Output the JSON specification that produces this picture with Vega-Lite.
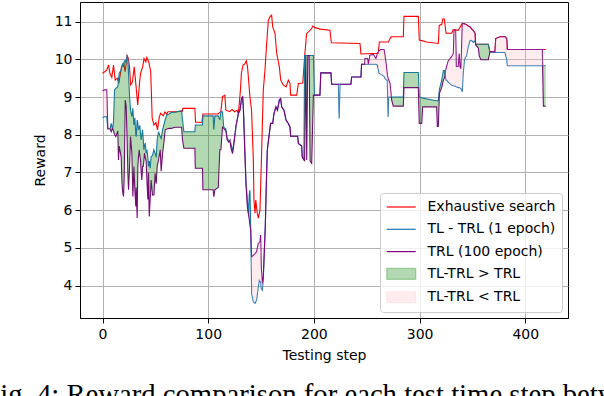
{
  "$schema": "https://vega.github.io/schema/vega-lite/v6.json",
  "width": 488,
  "height": 316,
  "autosize": {"type": "none"},
  "padding": {"left": 80, "top": 2, "right": 36, "bottom": 78},
  "background": "white",
  "title": {
    "text": "Fig. 4: Reward comparison for each test time step between the",
    "orient": "bottom",
    "anchor": "start",
    "frame": "group",
    "font": "Liberation Serif",
    "fontSize": 28.7,
    "fontWeight": "normal",
    "color": "black",
    "dx": -95.7,
    "offset": 19
  },
  "config": {
    "view": {"stroke": "black", "strokeWidth": 1},
    "axis": {
      "labelFont": "DejaVu Sans",
      "labelFontSize": 14,
      "labelColor": "black",
      "titleFont": "DejaVu Sans",
      "titleFontSize": 14,
      "titleFontWeight": "normal",
      "titleColor": "black",
      "tickColor": "black",
      "tickSize": 5,
      "domainColor": "black",
      "gridColor": "#b0b0b0",
      "gridWidth": 1,
      "labelPadding": 3
    },
    "legend": {
      "orient": "bottom-right",
      "offset": 6,
      "fillColor": "rgba(255,255,255,0.8)",
      "strokeColor": "#cccccc",
      "cornerRadius": 3,
      "padding": 6,
      "labelFont": "DejaVu Sans",
      "labelFontSize": 14,
      "labelColor": "black",
      "symbolSize": 210,
      "rowPadding": 7.3,
      "labelOffset": 25.5
    }
  },
  "datasets": {
    "exhaustive": [
      {"step": 0, "E": 9.63}, {"step": 4, "E": 9.71}, {"step": 5.7, "E": 9.85}, {"step": 7, "E": 9.63},
      {"step": 8.8, "E": 9.52}, {"step": 10.4, "E": 9.85}, {"step": 12, "E": 9.45}, {"step": 14, "E": 9.5},
      {"step": 15.4, "E": 9.36}, {"step": 16.7, "E": 9.58}, {"step": 18, "E": 9.8}, {"step": 20, "E": 9.89},
      {"step": 21.4, "E": 9.67}, {"step": 23.3, "E": 10.1}, {"step": 24.5, "E": 10.02}, {"step": 25.5, "E": 9.8},
      {"step": 26.7, "E": 9.32}, {"step": 28.3, "E": 9.4}, {"step": 30, "E": 9.8}, {"step": 31.8, "E": 9.27},
      {"step": 33.3, "E": 8.79}, {"step": 35, "E": 9.36}, {"step": 36, "E": 9.63}, {"step": 38, "E": 9.8},
      {"step": 39.3, "E": 10.02}, {"step": 41, "E": 9.93}, {"step": 42, "E": 10.05}, {"step": 44, "E": 9.9},
      {"step": 45.6, "E": 9.67}, {"step": 47, "E": 8.44}, {"step": 48.7, "E": 8.26}, {"step": 50.6, "E": 8.32},
      {"step": 52, "E": 8.13}, {"step": 53.8, "E": 8.48}, {"step": 55, "E": 8.57}, {"step": 57.5, "E": 8.5},
      {"step": 59, "E": 8.6}, {"step": 60.7, "E": 8.55}, {"step": 62, "E": 8.61}, {"step": 67, "E": 8.61},
      {"step": 75.5, "E": 8.62}, {"step": 76, "E": 8.7}, {"step": 87.4, "E": 8.7}, {"step": 88, "E": 8.33},
      {"step": 94, "E": 8.33}, {"step": 95, "E": 8.55}, {"step": 109.4, "E": 8.55}, {"step": 112, "E": 8.62},
      {"step": 113.5, "E": 9.01}, {"step": 115.7, "E": 9.05}, {"step": 116.7, "E": 8.65}, {"step": 120.4, "E": 8.61},
      {"step": 122.6, "E": 8.67}, {"step": 125, "E": 8.61}, {"step": 127.4, "E": 8.65}, {"step": 128.3, "E": 8.57},
      {"step": 129, "E": 8.7}, {"step": 130.5, "E": 9.19}, {"step": 131.4, "E": 9.63}, {"step": 133, "E": 9.85},
      {"step": 134.6, "E": 9.88}, {"step": 136, "E": 9.96}, {"step": 137.2, "E": 9.8}, {"step": 139.5, "E": 9.0},
      {"step": 141, "E": 8.65}, {"step": 142.7, "E": 7.33}, {"step": 143.3, "E": 6.27}, {"step": 144.3, "E": 5.92},
      {"step": 145, "E": 6.27}, {"step": 146.4, "E": 5.92}, {"step": 147.4, "E": 5.79}, {"step": 149, "E": 6.0},
      {"step": 150.6, "E": 7.6}, {"step": 152.1, "E": 9.18}, {"step": 153.7, "E": 9.71}, {"step": 155.3, "E": 10.42},
      {"step": 156.9, "E": 11.04}, {"step": 158.5, "E": 11.13}, {"step": 160, "E": 11.17}, {"step": 161, "E": 10.86},
      {"step": 163.2, "E": 10.69}, {"step": 164.8, "E": 10.16}, {"step": 167.3, "E": 9.8}, {"step": 168.6, "E": 9.45},
      {"step": 171, "E": 9.32}, {"step": 173.6, "E": 9.27}, {"step": 175.8, "E": 9.45}, {"step": 177.4, "E": 9.36},
      {"step": 178, "E": 9.05}, {"step": 183.7, "E": 9.05}, {"step": 185.3, "E": 9.36}, {"step": 189.5, "E": 9.37},
      {"step": 191.3, "E": 10.1}, {"step": 193.1, "E": 10.68}, {"step": 197.8, "E": 10.81}, {"step": 198.8, "E": 10.88},
      {"step": 201, "E": 10.84}, {"step": 206, "E": 10.8}, {"step": 215.2, "E": 10.77}, {"step": 216.5, "E": 10.44},
      {"step": 243.6, "E": 10.42}, {"step": 244.5, "E": 10.14}, {"step": 260.9, "E": 10.16}, {"step": 261.9, "E": 10.46},
      {"step": 270.4, "E": 10.46}, {"step": 273, "E": 10.6}, {"step": 284.6, "E": 10.6}, {"step": 285.2, "E": 11.14},
      {"step": 298.8, "E": 11.14}, {"step": 299.7, "E": 10.51}, {"step": 303, "E": 10.49}, {"step": 306.6, "E": 10.46},
      {"step": 317.7, "E": 10.42}, {"step": 318.6, "E": 10.9}, {"step": 321, "E": 10.93}, {"step": 321.9, "E": 11.07},
      {"step": 323.4, "E": 11.07}, {"step": 325, "E": 10.69}, {"step": 330.4, "E": 10.69}, {"step": 331.9, "E": 10.79},
      {"step": 336.5, "E": 10.77}, {"step": 340.4, "E": 10.95}, {"step": 343.5, "E": 10.93}, {"step": 347.7, "E": 10.86},
      {"step": 350.8, "E": 10.76}, {"step": 352.4, "E": 10.69}, {"step": 353, "E": 10.4}, {"step": 365, "E": 10.4},
      {"step": 366.6, "E": 10.2}, {"step": 371.3, "E": 10.2}, {"step": 372, "E": 10.55}, {"step": 376.1, "E": 10.6},
      {"step": 380.8, "E": 10.6}, {"step": 382.4, "E": 10.55}, {"step": 383, "E": 10.26}, {"step": 419.5, "E": 10.26}
    ],
    "compare": [
      {"step": 0, "T": 8.46, "R": 9.17}, {"step": 2.5, "T": 8.48, "R": 9.19}, {"step": 4, "T": 8.48, "R": 9.19},
      {"step": 5, "T": 8.15, "R": 8.17}, {"step": 7.3, "T": 8.17, "R": 8.15}, {"step": 8.2, "T": 8.3, "R": 8.08},
      {"step": 9.5, "T": 8.15, "R": 8.17}, {"step": 10.4, "T": 8.35, "R": 8.1}, {"step": 11.4, "T": 9.19, "R": 8.0},
      {"step": 12.6, "T": 9.23, "R": 7.95}, {"step": 14.5, "T": 9.28, "R": 8.1}, {"step": 15.1, "T": 9.45, "R": 7.33},
      {"step": 15.8, "T": 9.63, "R": 7.7}, {"step": 17.7, "T": 9.72, "R": 7.4}, {"step": 18.3, "T": 9.8, "R": 6.8},
      {"step": 19, "T": 9.89, "R": 6.5}, {"step": 19.9, "T": 9.8, "R": 6.36}, {"step": 20.6, "T": 9.95, "R": 7.0},
      {"step": 21.5, "T": 9.98, "R": 8.92}, {"step": 22.4, "T": 9.9, "R": 8.75}, {"step": 23.3, "T": 10.11, "R": 7.86},
      {"step": 24, "T": 10.0, "R": 6.98}, {"step": 24.6, "T": 9.63, "R": 6.54}, {"step": 25.6, "T": 9.01, "R": 7.16},
      {"step": 26.5, "T": 8.66, "R": 7.95}, {"step": 27.8, "T": 8.48, "R": 7.51}, {"step": 28.7, "T": 8.7, "R": 6.36},
      {"step": 29.7, "T": 8.26, "R": 7.16}, {"step": 30.6, "T": 8.45, "R": 6.54}, {"step": 31.5, "T": 8.0, "R": 6.1},
      {"step": 31.9, "T": 7.95, "R": 6.6}, {"step": 32.8, "T": 8.39, "R": 5.79}, {"step": 33.4, "T": 8.3, "R": 7.16},
      {"step": 34.0, "T": 8.13, "R": 7.4}, {"step": 34.7, "T": 8.2, "R": 7.6}, {"step": 35.3, "T": 8.25, "R": 7.45},
      {"step": 36.0, "T": 8.0, "R": 7.33}, {"step": 36.6, "T": 7.86, "R": 7.0}, {"step": 37.2, "T": 8.0, "R": 6.8},
      {"step": 37.9, "T": 8.13, "R": 7.16}, {"step": 38.5, "T": 7.9, "R": 7.16}, {"step": 39.1, "T": 7.6, "R": 7.3},
      {"step": 39.7, "T": 7.7, "R": 7.51}, {"step": 40.4, "T": 7.78, "R": 7.4}, {"step": 41.3, "T": 7.51, "R": 7.3},
      {"step": 42.0, "T": 7.6, "R": 6.8}, {"step": 42.9, "T": 7.4, "R": 6.28}, {"step": 43.5, "T": 7.16, "R": 7.0},
      {"step": 44.2, "T": 7.3, "R": 5.83}, {"step": 45.1, "T": 7.11, "R": 6.3}, {"step": 46.0, "T": 7.42, "R": 6.8},
      {"step": 47.3, "T": 7.45, "R": 6.4}, {"step": 48.6, "T": 7.6, "R": 6.4}, {"step": 49.8, "T": 7.5, "R": 6.98},
      {"step": 50.8, "T": 7.4, "R": 6.7}, {"step": 51.7, "T": 7.86, "R": 7.16}, {"step": 53, "T": 8.08, "R": 7.33},
      {"step": 54.6, "T": 7.95, "R": 7.6}, {"step": 55.5, "T": 7.9, "R": 7.03}, {"step": 56.8, "T": 8.13, "R": 7.5},
      {"step": 58, "T": 8.26, "R": 7.78}, {"step": 59.3, "T": 8.4, "R": 8.13}, {"step": 60.9, "T": 8.53, "R": 8.15},
      {"step": 63, "T": 8.55, "R": 8.17}, {"step": 65, "T": 8.59, "R": 8.17}, {"step": 68.8, "T": 8.6, "R": 8.2},
      {"step": 74.8, "T": 8.64, "R": 8.2}, {"step": 75.7, "T": 8.39, "R": 7.86}, {"step": 77, "T": 8.08, "R": 7.64},
      {"step": 87.4, "T": 8.08, "R": 7.64}, {"step": 87.8, "T": 8.26, "R": 7.11}, {"step": 94.6, "T": 8.26, "R": 7.11},
      {"step": 95.0, "T": 8.5, "R": 6.54}, {"step": 104.7, "T": 8.5, "R": 6.54}, {"step": 105.3, "T": 8.13, "R": 6.36},
      {"step": 106.3, "T": 8.5, "R": 6.54}, {"step": 109.5, "T": 8.5, "R": 6.6}, {"step": 111, "T": 8.39, "R": 7.6},
      {"step": 112, "T": 8.61, "R": 7.6}, {"step": 113.5, "T": 8.61, "R": 8.2}, {"step": 114.7, "T": 8.2, "R": 8.17},
      {"step": 116.7, "T": 8.15, "R": 8.1}, {"step": 118, "T": 7.9, "R": 7.86}, {"step": 119.5, "T": 7.85, "R": 7.8},
      {"step": 120.6, "T": 7.81, "R": 7.86}, {"step": 121.5, "T": 7.77, "R": 7.65}, {"step": 123, "T": 7.55, "R": 7.5},
      {"step": 124.3, "T": 7.8, "R": 7.75}, {"step": 126.3, "T": 8.2, "R": 8.25}, {"step": 128.5, "T": 8.56, "R": 8.56},
      {"step": 130, "T": 8.65, "R": 8.65}, {"step": 131.6, "T": 8.96, "R": 8.96}, {"step": 132.6, "T": 9.0, "R": 9.0},
      {"step": 133.2, "T": 8.7, "R": 8.75}, {"step": 133.8, "T": 8.4, "R": 8.2}, {"step": 134.8, "T": 7.5, "R": 7.41},
      {"step": 135.7, "T": 6.79, "R": 6.71}, {"step": 137, "T": 6.27, "R": 6.09}, {"step": 138, "T": 5.91, "R": 5.91},
      {"step": 138.9, "T": 6.44, "R": 5.74}, {"step": 139.5, "T": 6.53, "R": 5.6}, {"step": 140.2, "T": 5.56, "R": 5.47},
      {"step": 141.1, "T": 3.79, "R": 4.76}, {"step": 142.7, "T": 3.57, "R": 4.8}, {"step": 144.3, "T": 3.53, "R": 4.85},
      {"step": 145.8, "T": 3.62, "R": 4.9}, {"step": 147.4, "T": 3.97, "R": 5.12}, {"step": 148.3, "T": 4.14, "R": 5.14},
      {"step": 149, "T": 4.1, "R": 5.16}, {"step": 149.6, "T": 4.1, "R": 5.34}, {"step": 150.2, "T": 3.92, "R": 4.5},
      {"step": 151.2, "T": 3.88, "R": 4.06}, {"step": 152.1, "T": 4.14, "R": 4.23}, {"step": 153, "T": 4.85, "R": 4.85},
      {"step": 154, "T": 5.56, "R": 5.56}, {"step": 155, "T": 6.71, "R": 6.71}, {"step": 155.9, "T": 7.59, "R": 7.59},
      {"step": 157.8, "T": 8.03, "R": 8.03}, {"step": 159, "T": 8.3, "R": 8.3}, {"step": 161, "T": 8.3, "R": 8.3},
      {"step": 162.2, "T": 8.56, "R": 8.56}, {"step": 164.1, "T": 8.74, "R": 8.74}, {"step": 165.5, "T": 8.65, "R": 8.65},
      {"step": 167.3, "T": 8.92, "R": 8.92}, {"step": 168.5, "T": 8.96, "R": 8.96}, {"step": 169.5, "T": 8.74, "R": 8.74},
      {"step": 171.7, "T": 8.65, "R": 8.65}, {"step": 173.6, "T": 8.39, "R": 8.39}, {"step": 175.8, "T": 8.3, "R": 8.3},
      {"step": 177.4, "T": 8.2, "R": 8.2}, {"step": 178, "T": 7.96, "R": 7.96}, {"step": 184.6, "T": 7.96, "R": 7.96},
      {"step": 185.3, "T": 7.77, "R": 7.77}, {"step": 188.4, "T": 7.7, "R": 7.7}, {"step": 189, "T": 7.41, "R": 7.41},
      {"step": 190.5, "T": 7.34, "R": 7.34}, {"step": 191.2, "T": 10.1, "R": 7.3}, {"step": 192.3, "T": 10.1, "R": 10.1},
      {"step": 193.2, "T": 10.1, "R": 7.33}, {"step": 194.2, "T": 10.1, "R": 10.1}, {"step": 195.5, "T": 10.1, "R": 10.1},
      {"step": 196.4, "T": 10.1, "R": 7.3}, {"step": 197.9, "T": 10.1, "R": 7.24}, {"step": 199.5, "T": 10.1, "R": 9.05},
      {"step": 200.5, "T": 9.05, "R": 9.05}, {"step": 205.7, "T": 9.05, "R": 9.05}, {"step": 206.5, "T": 9.64, "R": 9.64},
      {"step": 216.1, "T": 9.64, "R": 9.64}, {"step": 216.8, "T": 9.34, "R": 9.34}, {"step": 223.1, "T": 9.34, "R": 9.34},
      {"step": 223.9, "T": 8.43, "R": 9.34}, {"step": 224.7, "T": 9.34, "R": 9.34}, {"step": 235, "T": 9.34, "R": 9.34},
      {"step": 235.7, "T": 9.53, "R": 9.53}, {"step": 244.5, "T": 9.53, "R": 9.53}, {"step": 245.1, "T": 9.87, "R": 9.87},
      {"step": 248, "T": 9.87, "R": 9.87}, {"step": 248.3, "T": 9.87, "R": 10.02}, {"step": 250.8, "T": 9.87, "R": 10.02},
      {"step": 251.5, "T": 9.87, "R": 9.87}, {"step": 253, "T": 9.87, "R": 10.11}, {"step": 256.2, "T": 9.87, "R": 10.13},
      {"step": 258.7, "T": 9.87, "R": 10.02}, {"step": 260, "T": 9.85, "R": 10.15}, {"step": 261.5, "T": 9.64, "R": 10.22},
      {"step": 263.4, "T": 9.6, "R": 10.26}, {"step": 266.3, "T": 9.55, "R": 10.26}, {"step": 267.2, "T": 9.5, "R": 10.11},
      {"step": 268.5, "T": 9.45, "R": 9.85}, {"step": 269.4, "T": 9.45, "R": 9.6}, {"step": 270.2, "T": 8.47, "R": 9.5},
      {"step": 270.8, "T": 9.0, "R": 9.45}, {"step": 272, "T": 9.0, "R": 9.36}, {"step": 273.6, "T": 9.0, "R": 8.92},
      {"step": 275.1, "T": 9.0, "R": 8.76}, {"step": 284.6, "T": 9.0, "R": 8.76}, {"step": 285.2, "T": 9.65, "R": 9.25},
      {"step": 298.8, "T": 9.65, "R": 9.25}, {"step": 299.7, "T": 9.0, "R": 8.3}, {"step": 302, "T": 8.98, "R": 8.3},
      {"step": 302.9, "T": 8.97, "R": 8.74}, {"step": 316.1, "T": 8.9, "R": 8.74}, {"step": 316.8, "T": 8.9, "R": 8.22},
      {"step": 317.7, "T": 8.9, "R": 8.22}, {"step": 318.7, "T": 9.2, "R": 9.1}, {"step": 320.9, "T": 9.45, "R": 9.25},
      {"step": 322.5, "T": 9.7, "R": 9.45}, {"step": 323.5, "T": 9.7, "R": 9.5}, {"step": 325, "T": 9.45, "R": 9.75},
      {"step": 325.6, "T": 9.45, "R": 9.81}, {"step": 327, "T": 9.4, "R": 9.95}, {"step": 328.8, "T": 9.35, "R": 10.02},
      {"step": 330.3, "T": 9.32, "R": 10.07}, {"step": 331.9, "T": 9.3, "R": 10.15}, {"step": 332.6, "T": 9.3, "R": 10.77},
      {"step": 334.1, "T": 9.28, "R": 10.77}, {"step": 334.7, "T": 9.27, "R": 9.81}, {"step": 336.6, "T": 9.25, "R": 9.81},
      {"step": 337.5, "T": 9.25, "R": 10.15}, {"step": 338.2, "T": 9.24, "R": 9.8}, {"step": 339.1, "T": 9.23, "R": 9.75},
      {"step": 340.4, "T": 9.14, "R": 10.95}, {"step": 341.2, "T": 9.6, "R": 10.95}, {"step": 342.5, "T": 10.0, "R": 10.94},
      {"step": 344.5, "T": 10.1, "R": 10.92}, {"step": 346, "T": 10.33, "R": 10.88}, {"step": 347.6, "T": 10.49, "R": 10.86},
      {"step": 349.3, "T": 10.5, "R": 10.8}, {"step": 350.8, "T": 10.45, "R": 10.76}, {"step": 352.4, "T": 10.5, "R": 10.69},
      {"step": 353, "T": 10.4, "R": 10.38}, {"step": 355.6, "T": 10.4, "R": 10.3}, {"step": 356.5, "T": 10.4, "R": 10.08},
      {"step": 358.1, "T": 10.4, "R": 9.99}, {"step": 365, "T": 10.4, "R": 9.99}, {"step": 366.6, "T": 10.18, "R": 10.2},
      {"step": 371.3, "T": 10.18, "R": 10.2}, {"step": 372, "T": 10.18, "R": 10.55}, {"step": 376.1, "T": 10.18, "R": 10.6},
      {"step": 380.8, "T": 10.18, "R": 10.6}, {"step": 382.4, "T": 10.0, "R": 10.55}, {"step": 383, "T": 9.83, "R": 10.26},
      {"step": 416.1, "T": 9.83, "R": 10.26}, {"step": 417.1, "T": 9.83, "R": 8.76}, {"step": 419.3, "T": 9.83, "R": 8.76}
    ]
  },
  "encoding": {
    "x": {
      "field": "step",
      "type": "quantitative",
      "scale": {"domain": [-21.3, 440.4], "nice": false, "zero": false},
      "axis": {"title": "Testing step", "values": [0, 100, 200, 300, 400], "titlePadding": 7, "labelPadding": 4}
    }
  },
  "layer": [
    {
      "data": {"name": "exhaustive"},
      "mark": {"type": "line", "strokeWidth": 1.1, "clip": true},
      "encoding": {
        "y": {
          "field": "E",
          "type": "quantitative",
          "scale": {"domain": [3.14, 11.52], "nice": false, "zero": false},
          "axis": {"title": "Reward", "values": [4, 5, 6, 7, 8, 9, 10, 11], "titlePadding": 7}
        },
        "color": {
          "datum": "Exhaustive search",
          "type": "nominal",
          "scale": {
            "domain": ["Exhaustive search", "TL - TRL (1 epoch)", "TRL (100 epoch)", "TL-TRL > TRL", "TL-TRL < TRL"],
            "range": ["red", "#1f77b4", "purple", "rgba(0,128,0,0.3)", "rgba(255,192,203,0.3)"]
          },
          "legend": {
            "title": null,
            "encode": {
              "symbols": {
                "update": {
                  "shape": {"signal": "(datum.value === 'TL-TRL > TRL' || datum.value === 'TL-TRL < TRL') ? 'M-1,-0.75H3V0.75H-1Z' : 'M-1,0H3'"},
                  "stroke": {"signal": "datum.value === 'Exhaustive search' ? 'red' : (datum.value === 'TL - TRL (1 epoch)' ? '#1f77b4' : (datum.value === 'TRL (100 epoch)' ? 'purple' : (datum.value === 'TL-TRL > TRL' ? 'rgba(0,128,0,0.3)' : 'rgba(255,192,203,0.3)')))"},
                  "strokeWidth": {"value": 1.2},
                  "opacity": {"value": 1},
                  "fillOpacity": {"value": 1},
                  "strokeOpacity": {"value": 1}
                }
              }
            }
          }
        }
      }
    },
    {
      "data": {"name": "compare"},
      "mark": {"type": "line", "strokeWidth": 1.1, "clip": true},
      "encoding": {
        "y": {"field": "T", "type": "quantitative"},
        "color": {"datum": "TL - TRL (1 epoch)", "type": "nominal"}
      }
    },
    {
      "data": {"name": "compare"},
      "mark": {"type": "line", "strokeWidth": 1.1, "clip": true},
      "encoding": {
        "y": {"field": "R", "type": "quantitative"},
        "color": {"datum": "TRL (100 epoch)", "type": "nominal"}
      }
    },
    {
      "data": {"name": "compare"},
      "transform": [
        {"fold": ["T", "R"], "as": ["series", "value"]},
        {"joinaggregate": [{"op": "max", "field": "value", "as": "hi"}], "groupby": ["step"]},
        {"filter": "datum.series === 'R'"}
      ],
      "mark": {"type": "area", "opacity": 1, "clip": true},
      "encoding": {
        "y": {"field": "value", "type": "quantitative"},
        "y2": {"field": "hi"},
        "color": {"datum": "TL-TRL > TRL", "type": "nominal"}
      }
    },
    {
      "data": {"name": "compare"},
      "transform": [
        {"fold": ["T", "R"], "as": ["series", "value"]},
        {"joinaggregate": [{"op": "max", "field": "value", "as": "hi"}], "groupby": ["step"]},
        {"filter": "datum.series === 'T'"}
      ],
      "mark": {"type": "area", "opacity": 1, "clip": true},
      "encoding": {
        "y": {"field": "value", "type": "quantitative"},
        "y2": {"field": "hi"},
        "color": {"datum": "TL-TRL < TRL", "type": "nominal"}
      }
    }
  ]
}
